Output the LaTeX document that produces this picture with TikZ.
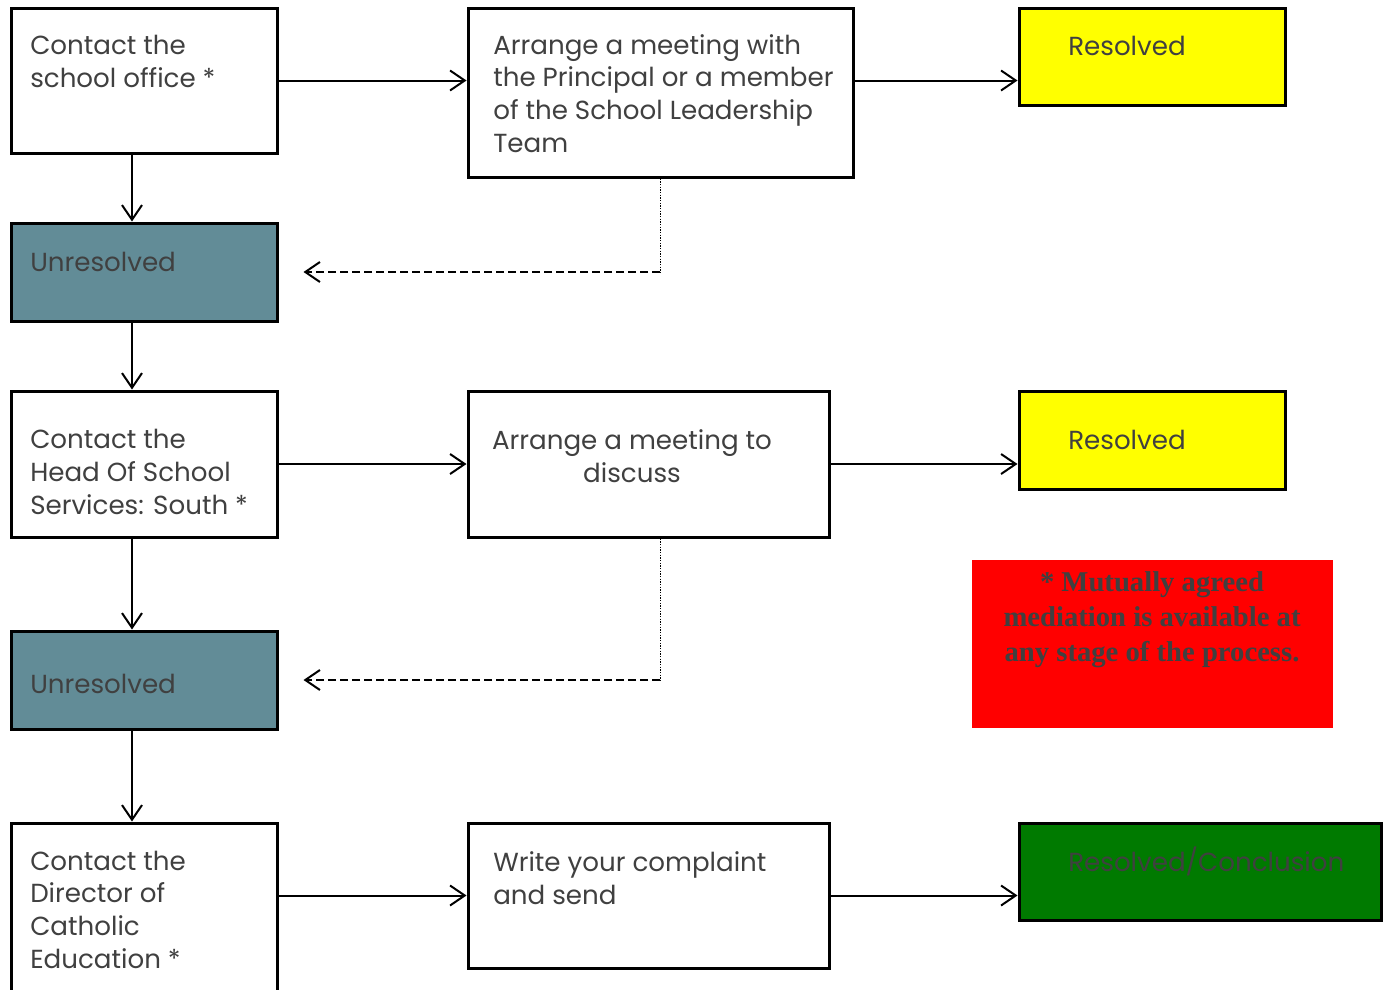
\documentclass[tikz,border=0pt]{standalone}
\usepackage{fontspec}
\setmainfont{Poppins}
\newfontfamily\notefont{Liberation Serif}
\usetikzlibrary{arrows.meta,fit,calc}
\definecolor{txtgray}{HTML}{404040}
\definecolor{unres}{HTML}{628C97}
\definecolor{resyel}{HTML}{FFFF00}
\definecolor{resgreen}{HTML}{007A00}
\definecolor{notered}{HTML}{FF0000}
\begin{document}
\begin{tikzpicture}[x=0.75pt,y=-0.75pt,
  box/.style={draw=black, line width=2.25pt, inner sep=0pt},
  txt/.style={text=txtgray, font=\fontsize{19.6}{24.4}\selectfont, inner sep=0pt, align=left, anchor=base west},
  ctxt/.style={text=txtgray, font=\fontsize{19.6}{24.4}\selectfont, inner sep=0pt, align=center, anchor=base},
  arr/.style={-{Straight Barb[length=11pt,width=15pt]}, line width=1.5pt},
  dotline/.style={line width=0.5pt, dash pattern=on 1pt off 1pt},
  dasharr/.style={-{Straight Barb[length=11pt,width=15pt]}, line width=1.5pt, dash pattern=on 6pt off 3pt}
]
\useasboundingbox (0,0) rectangle (1387,989);
\clip (0,0) rectangle (1387,989);
\fill[white] (0,0) rectangle (1387,989);

% boxes
\node[box, fit={(11,8)(277,153)}] (a1) {};
\node[box, fit={(468,8)(853,177)}] (a2) {};
\node[box, fill=resyel, fit={(1019,8)(1285,105)}] (a3) {};
\node[box, fill=unres, fit={(11,223)(277,321)}] (u1) {};
\node[box, fit={(11,391)(277,537)}] (b1) {};
\node[box, fit={(468,391)(829,537)}] (b2) {};
\node[box, fill=resyel, fit={(1019,391)(1285,489)}] (b3) {};
\node[box, fill=unres, fit={(11,631)(277,729)}] (u2) {};
\node[box, fit={(11,823)(277,1010)}] (c1) {};
\node[box, fit={(468,823)(829,968)}] (c2) {};
\node[box, fill=resgreen, fit={(1019,823)(1381,920)}] (c3) {};
\node[fill=notered, inner sep=0pt, fit={(972,560)(1333,728)}] (note) {};

% texts (anchor = baseline of last line)
\node[txt] (ta1) at (30,87) {Contact the\\school office *};
\node[txt] (ta2) at (493,152) {Arrange a meeting with\\the Principal or a member\\of the School Leadership\\Team};
\node[txt] (ta3) at (1068,55) {Resolved};
\node[txt] (tu1) at (30,271) {Unresolved};
\node[txt] (tb1) at (30,514) {Contact the\\Head Of School\\Services: South *};
\node[ctxt] (tb2) at (632,482) {Arrange a meeting to\\discuss};
\node[txt] (tb3) at (1068,449) {Resolved};
\node[txt] (tu2) at (30,693) {Unresolved};
\node[txt] (tc1) at (30,968) {Contact the\\Director of\\Catholic\\Education *};
\node[txt] (tc2) at (493,904) {Write your complaint\\and send};
\node[txt] (tc3) at (1068,871) {Resolved/Conclusion};
\node[text=txtgray, font=\notefont\bfseries\fontsize{21.5}{25.9}\selectfont, inner sep=0pt, align=center, anchor=base] (tn) at (1152,661) {* Mutually agreed\\mediation is available at\\any stage of the process.};

% connectors
\coordinate (col) at (132,0);
\coordinate (dx) at (660,0);
\draw[arr] (a1.east) -- (a1.east -| a2.west);
\draw[arr] (a1.east -| a2.east) -- (a1.east -| a3.west);
\draw[arr] (col |- a1.south) -- (col |- u1.north);
\draw[arr] (col |- u1.south) -- (col |- b1.north);
\draw[arr] (b1.east) -- (b1.east -| b2.west);
\draw[arr] (b2.east) -- (b2.east -| b3.west);
\draw[arr] (col |- b1.south) -- (col |- u2.north);
\draw[arr] (col |- u2.south) -- (col |- c1.north);
\draw[arr] (c2.west -| c1.east) -- (c2.west);
\draw[arr] (c2.east) -- (c2.east -| c3.west);
\draw[dotline] (dx |- a2.south) -- (dx |- u1.east);
\draw[dasharr] (dx |- u1.east) -- ($(u1.east)+(25,0)$);
\draw[dotline] (dx |- b2.south) -- (dx |- u2.east);
\draw[dasharr] (dx |- u2.east) -- ($(u2.east)+(25,0)$);
\end{tikzpicture}
\end{document}
